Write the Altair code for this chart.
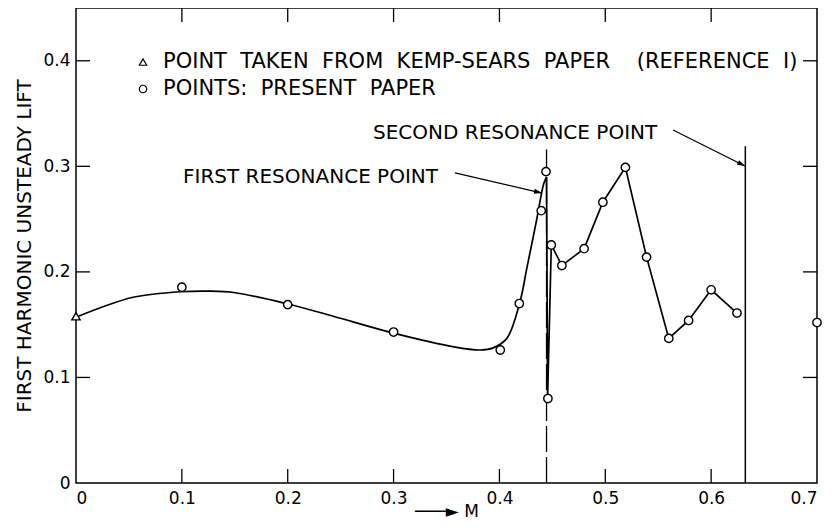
import altair as alt
import pandas as pd

# ---- data ----
# smooth fitted curve
curve_m = [0.0, 0.023, 0.054, 0.099, 0.125, 0.149, 0.200, 0.243, 0.300, 0.357, 0.382, 0.394, 0.407, 0.419, 0.426, 0.435, 0.4417, 0.4445]
curve_lift = [0.157, 0.166, 0.176, 0.1812, 0.1818, 0.1805, 0.1696, 0.158, 0.142, 0.129, 0.126, 0.128, 0.137, 0.170, 0.204, 0.2485, 0.283, 0.290]

# straight-segment part after the first resonance
seg_m = [0.4445, 0.4455, 0.449, 0.459, 0.480, 0.4977, 0.519, 0.539, 0.560, 0.5787, 0.600, 0.6244]
seg_lift = [0.290, 0.080, 0.2255, 0.206, 0.222, 0.266, 0.299, 0.214, 0.137, 0.154, 0.183, 0.161]

# measured points
present_m = [0.1, 0.2, 0.3, 0.4008, 0.4188, 0.4395, 0.444, 0.4458, 0.449, 0.459, 0.480, 0.4977, 0.519, 0.539, 0.560, 0.5787, 0.600, 0.6244, 0.700]
present_lift = [0.1855, 0.169, 0.143, 0.126, 0.170, 0.258, 0.295, 0.080, 0.2255, 0.206, 0.222, 0.266, 0.299, 0.214, 0.137, 0.154, 0.183, 0.161, 0.152]
kemp_m = [0.0]
kemp_lift = [0.158]

kinds = ["kemp", "present"]
legend_labels = ["POINT\u00a0 TAKEN\u00a0 FROM\u00a0 KEMP-SEARS\u00a0 PAPER\u00a0\u00a0\u00a0 (REFERENCE\u00a0\u00a0I)",
                 "POINTS:\u00a0 PRESENT\u00a0 PAPER"]
# legend placement (in chart units, top-left block of the plot)
legend_m = [0.0633, 0.0633]
legend_text_m = [0.0822, 0.0822]
legend_lift = [0.3988, 0.3733]

# resonance lines
res_m = [0.4445, 0.6323]
res_top = [0.316, 0.319]

# annotations
ann_text = ["FIRST RESONANCE POINT", "SECOND RESONANCE POINT"]
ann_m = [0.1011, 0.2806]
ann_lift = [0.290, 0.3316]
arrow_m0 = [0.358, 0.564]
arrow_lift0 = [0.2937, 0.3344]
arrow_m1 = [0.4402, 0.632]
arrow_lift1 = [0.2747, 0.3003]
arrow_angle = [13, 26.6]

x_label_vals = [0, 0.1, 0.2, 0.3, 0.4, 0.5, 0.6, 0.7]
y_label_vals = [0, 0.1, 0.2, 0.3, 0.4]
x_tick_vals = [0.1, 0.2, 0.3, 0.4, 0.5, 0.6]
y_tick_vals = [0.1, 0.2, 0.3, 0.4]

W, H = 741, 475
TICK = 14

# ---- tables ----
curve_df = pd.DataFrame({"m": curve_m, "lift": curve_lift})
seg_df = pd.DataFrame({"m": seg_m, "lift": seg_lift})
pts_df = pd.DataFrame({
    "m": kemp_m + present_m,
    "lift": kemp_lift + present_lift,
    "kind": [kinds[0]] * len(kemp_m) + [kinds[1]] * len(present_m),
})
leg_df = pd.DataFrame({"m": legend_m, "tm": legend_text_m, "lift": legend_lift, "kind": kinds, "text": legend_labels})
res_df = pd.DataFrame({"m": res_m, "y0": [0, 0], "y1": res_top, "style": ["dash", "solid"]})
ann_df = pd.DataFrame({"text": ann_text, "m": ann_m, "lift": ann_lift})
arr_df = pd.DataFrame({"m0": arrow_m0, "l0": arrow_lift0, "m1": arrow_m1, "l1": arrow_lift1, "angle": arrow_angle})
xt_df = pd.DataFrame({"m": x_tick_vals})
yt_df = pd.DataFrame({"lift": y_tick_vals})

FONT = "DejaVu Sans"
xs = alt.Scale(domain=[0, 0.7], nice=False, zero=False)
ys = alt.Scale(domain=[0, 0.45], nice=False, zero=False)
shape_scale = alt.Scale(domain=kinds, range=["triangle-up", "circle"])

main_x = alt.Axis(orient="bottom", values=x_label_vals, format="~g", ticks=False, tickSize=0,
                  domain=False, labelPadding=7, labelFlush=True,
                  title="───►  M", titleBaseline="alphabetic", titleY=33, titleFontSize=17)
main_y = alt.Axis(orient="left", values=y_label_vals, format="~g", ticks=False, tickSize=0,
                  domain=False, labelPadding=6, title="FIRST HARMONIC UNSTEADY LIFT", titlePadding=8)

curve = alt.Chart(curve_df).mark_line(interpolate="catmull-rom", color="black", strokeWidth=1.7).encode(
    x=alt.X("m:Q", scale=xs, axis=main_x),
    y=alt.Y("lift:Q", scale=ys, axis=main_y),
)
seg = alt.Chart(seg_df).mark_line(color="black", strokeWidth=1.7).encode(
    x=alt.X("m:Q", scale=xs, axis=None),
    y=alt.Y("lift:Q", scale=ys, axis=None),
)
res_dash = alt.Chart(res_df[res_df["style"] == "dash"]).mark_rule(color="black", strokeWidth=1.3, strokeDash=[26, 5]).encode(
    x=alt.X("m:Q", scale=xs, axis=None),
    y=alt.Y("y0:Q", scale=ys, axis=None),
    y2="y1:Q",
)
res_solid = alt.Chart(res_df[res_df["style"] == "solid"]).mark_rule(color="black", strokeWidth=1.5).encode(
    x=alt.X("m:Q", scale=xs, axis=None),
    y=alt.Y("y0:Q", scale=ys, axis=None),
    y2="y1:Q",
)
points = alt.Chart(pts_df).mark_point(filled=False, color="black", fill="white", fillOpacity=1,
                                      strokeWidth=1.4, size=70, opacity=1).encode(
    x=alt.X("m:Q", scale=xs, axis=None),
    y=alt.Y("lift:Q", scale=ys, axis=None),
    shape=alt.Shape("kind:N", scale=shape_scale, legend=None),
)
leg_sym = alt.Chart(leg_df).mark_point(filled=False, color="black", fill="white", fillOpacity=1,
                                       strokeWidth=1.2, size=55, opacity=1).encode(
    x=alt.X("m:Q", scale=xs, axis=None),
    y=alt.Y("lift:Q", scale=ys, axis=None),
    shape=alt.Shape("kind:N", scale=shape_scale, legend=None),
)
leg_txt = alt.Chart(leg_df).mark_text(align="left", baseline="middle", font=FONT, fontSize=21, color="black").encode(
    x=alt.X("tm:Q", scale=xs, axis=None),
    y=alt.Y("lift:Q", scale=ys, axis=None),
    text="text:N",
)
ann = alt.Chart(ann_df).mark_text(align="left", baseline="middle", font=FONT, fontSize=20, color="black").encode(
    x=alt.X("m:Q", scale=xs, axis=None),
    y=alt.Y("lift:Q", scale=ys, axis=None),
    text="text:N",
)
arr_line = alt.Chart(arr_df).mark_rule(color="black", strokeWidth=1.3).encode(
    x=alt.X("m0:Q", scale=xs, axis=None),
    y=alt.Y("l0:Q", scale=ys, axis=None),
    x2="m1:Q",
    y2="l1:Q",
)
arr_head = alt.Chart(arr_df).mark_point(shape="M0,0L-1,-0.32L-1,0.32Z", filled=True, color="black", size=250, opacity=1).encode(
    x=alt.X("m1:Q", scale=xs, axis=None),
    y=alt.Y("l1:Q", scale=ys, axis=None),
    angle=alt.Angle("angle:Q", scale=None),
)

# inward tick marks on all four sides of the frame
tick_style = dict(color="black", strokeWidth=1.3)
ticks_bottom = alt.Chart(xt_df).mark_rule(**tick_style).encode(
    x=alt.X("m:Q", scale=xs, axis=None), y=alt.value(H), y2=alt.value(H - TICK))
ticks_top = alt.Chart(xt_df).mark_rule(**tick_style).encode(
    x=alt.X("m:Q", scale=xs, axis=None), y=alt.value(0), y2=alt.value(TICK))
ticks_left = alt.Chart(yt_df).mark_rule(**tick_style).encode(
    y=alt.Y("lift:Q", scale=ys, axis=None), x=alt.value(0), x2=alt.value(TICK))
ticks_right = alt.Chart(yt_df).mark_rule(**tick_style).encode(
    y=alt.Y("lift:Q", scale=ys, axis=None), x=alt.value(W), x2=alt.value(W - TICK))

chart = alt.layer(
    curve, seg, res_dash, res_solid, arr_line, arr_head, points, leg_sym, leg_txt, ann,
    ticks_bottom, ticks_top, ticks_left, ticks_right,
).resolve_axis(x="independent", y="independent").properties(
    width=W, height=H,
    autosize=alt.AutoSizeParams(type="none"),
    padding={"left": 68, "top": 0, "right": 7, "bottom": 40},
    background="white",
).configure_axis(
    labelFont=FONT, labelFontSize=17, labelColor="black",
    titleFont=FONT, titleFontSize=20, titleFontWeight="normal", titleColor="black", grid=False,
).configure_view(stroke="black", strokeWidth=1.5)

chart.save("out.html", embed_options={"renderer": "svg", "actions": False})
